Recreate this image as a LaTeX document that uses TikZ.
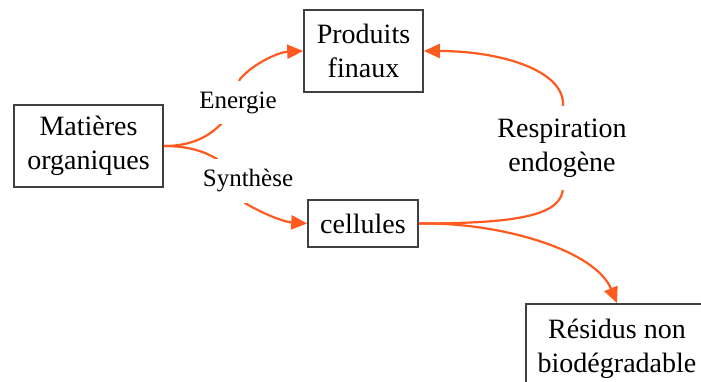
\documentclass[tikz,border=0pt]{standalone}
\usepackage{fontspec}
\setmainfont{Liberation Serif}
\usetikzlibrary{arrows.meta}
\definecolor{arr}{HTML}{FF5A1F}
\definecolor{bord}{HTML}{404040}
\tikzset{
  box/.style={draw=bord, line width=1.6pt, align=center, inner sep=0pt,
    font=\fontsize{28}{34}\selectfont},
  lab/.style={fill=white, align=center, inner sep=0pt,
    font=\fontsize{25}{30}\selectfont},
  biglab/.style={fill=white, align=center, inner sep=0pt,
    font=\fontsize{28}{34}\selectfont},
  conn/.style={draw=arr, line width=2.2pt},
  tip/.style={-{Triangle[length=16pt,width=14pt]}}
}
\begin{document}
\begin{tikzpicture}[x=1pt,y=-1pt]
\clip (0,0) rectangle (701,382);
\fill[white] (0,0) rectangle (701,382);
% boxes
\node[box, minimum width=149pt, minimum height=82pt] (mat) at (88.5,146) {Matières\\organiques};
\node[box, minimum width=119pt, minimum height=82pt] (prod) at (363.5,51) {Produits\\finaux};
\node[box, minimum width=110pt, minimum height=47pt] (cel) at (363,223.5) {cellules};
\node[box, minimum width=182pt, minimum height=90pt] (res) at (617,349) {Résidus non\\biodégradable};
% connectors
\draw[conn, tip] (mat.east) .. controls (200,146) and (215,130) .. (223,122)
  -- (240,79) .. controls (255,62) and (280,52) .. (prod.west);
\draw[conn, tip] (mat.east) .. controls (190,146) and (205,152) .. (217,159)
  -- (245,203) .. controls (265,215) and (285,222) .. (cel.west);
\draw[conn, tip] (cel.east) .. controls (520,223.5) and (563,215) .. (563,187)
  -- (563,104) .. controls (563,70) and (500,51) .. (prod.east);
\draw[conn, tip] (cel.east) .. controls (500,222) and (595,250) .. (res.north);
% labels
\node[lab, minimum width=82pt, minimum height=43pt] (en) at (238,103) {Energie};
\node[lab, minimum width=96pt, minimum height=44pt] (syn) at (248,181) {Synthèse};
\node[biglab, minimum width=138pt, minimum height=84pt] (resp) at (562,148) {Respiration\\endogène};
\end{tikzpicture}
\end{document}
